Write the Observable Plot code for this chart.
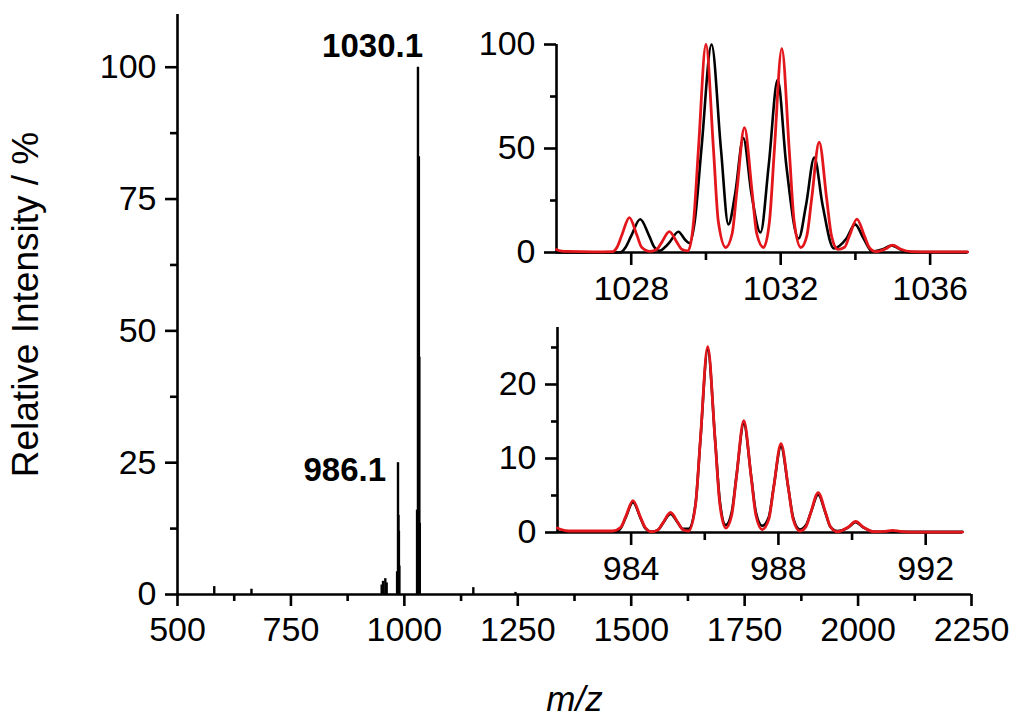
<!DOCTYPE html>
<html><head><meta charset="utf-8">
<script src="https://cdn.jsdelivr.net/npm/d3@7"></script>
<script src="https://cdn.jsdelivr.net/npm/@observablehq/plot@0.6"></script>
<style>
html,body{margin:0;padding:0;background:#fff;}
#wrap{position:relative;width:1016px;height:722px;overflow:hidden;}
</style></head><body><div id="wrap"></div>
<script>
// ---------- main spectrum ----------
const mainMz  = [581, 663, 950, 953, 958, 961, 984, 985, 986, 987, 988, 989, 1028, 1029, 1030, 1031, 1032, 1033, 1034, 1152, 1245];
const mainInt = [1.5, 1.0, 1.8, 2.5, 3.0, 2.2, 4.3, 2.7, 25, 15, 12, 5.4, 16, 10, 100, 55, 83, 45, 13.5, 1.3, 0.4];
const mainXDomain = [500, 2250];
const mainYDomain = [0, 110];
const mainXMajor = [500, 750, 1000, 1250, 1500, 1750, 2000, 2250];
const mainXMinor = [625, 875, 1125, 1375, 1625, 1875, 2125];
const mainYMajor = [0, 25, 50, 75, 100];
const mainYMinor = [12.5, 37.5, 62.5, 87.5];
const peakLabelMz = [1030.1, 986.1];
const peakLabelInt = [100, 25];
const peakLabelText = ["1030.1", "986.1"];
const yTitle = "Relative Intensity / %";
const xTitle = "m/z";

// ---------- top inset (1030 cluster) ----------
const topRedMz = [1026.0, 1026.1, 1026.3, 1027.0, 1027.5, 1027.62, 1027.75, 1027.95, 1028.15, 1028.28, 1028.5, 1028.69, 1028.82, 1029.02, 1029.22, 1029.35, 1029.52, 1029.67, 1029.8, 1030.0, 1030.2, 1030.33, 1030.53, 1030.7, 1030.83, 1031.03, 1031.23, 1031.36, 1031.54, 1031.7, 1031.83, 1032.03, 1032.23, 1032.36, 1032.54, 1032.7, 1032.83, 1033.03, 1033.23, 1033.36, 1033.53, 1033.71, 1033.84, 1034.04, 1034.24, 1034.37, 1034.55, 1034.8, 1035.0, 1035.2, 1035.5, 1036.0, 1037.0];
const topRedInt = [1.5, 0.8, 0.5, 0.3, 0.4, 2.5, 8.4, 16.8, 8.4, 2.5, 0.5, 1.6, 5, 10, 5, 1.6, 0.8, 15, 50, 100, 50, 15, 2.4, 9, 30, 60, 30, 9, 2.4, 15, 49, 98, 49, 15, 2.4, 8, 26, 53, 26, 8, 1.5, 2.5, 8, 16, 8, 2.5, 0.4, 1.7, 3.5, 1.7, 0.4, 0.3, 0.3];
const topBlackMz = [1026.0, 1027.7, 1027.85, 1028.0, 1028.24, 1028.48, 1028.62, 1028.76, 1028.9, 1029.03, 1029.26, 1029.45, 1029.56, 1029.7, 1029.88, 1030.15, 1030.4, 1030.6, 1030.78, 1031.0, 1031.22, 1031.46, 1031.68, 1031.92, 1032.15, 1032.48, 1032.68, 1032.9, 1033.12, 1033.42, 1033.76, 1033.99, 1034.22, 1034.45, 1034.75, 1034.96, 1035.18, 1035.4, 1037.0];
const topBlackInt = [0, 0, 2.5, 8, 16, 8, 2.5, 0.8, 2.5, 5, 10, 6, 4.5, 15, 50, 100, 50, 13.5, 28, 55, 28, 9.6, 42, 83, 42, 6.7, 23, 45.7, 23, 2, 6.7, 13.5, 6.7, 0.5, 1.7, 3.4, 1.7, 0.2, 0.2];
const topXDomain = [1026, 1037];
const topYDomain = [0, 100];
const topXMajor = [1028, 1032, 1036];
const topXMinor = [1030, 1034];
const topYMajor = [0, 50, 100];
const topYMinor = [25, 75];

// ---------- bottom inset (986 cluster) ----------
const botRedMz = [982.0, 982.1, 982.3, 983.0, 983.5, 983.72, 983.85, 984.05, 984.25, 984.38, 984.56, 984.74, 984.87, 985.07, 985.27, 985.4, 985.56, 985.75, 985.88, 986.08, 986.28, 986.41, 986.57, 986.73, 986.86, 987.06, 987.26, 987.39, 987.56, 987.74, 987.87, 988.07, 988.27, 988.4, 988.58, 988.75, 988.88, 989.08, 989.28, 989.41, 989.6, 989.9, 990.1, 990.3, 990.6, 990.9, 991.1, 991.3, 991.6, 993.0];
const botRedInt = [0.6, 0.4, 0.2, 0.2, 0.2, 0.7, 2.1, 4.3, 2.1, 0.7, 0.1, 0.4, 1.35, 2.7, 1.35, 0.4, 0.2, 3.8, 12.5, 25.1, 12.5, 3.8, 0.6, 2.3, 7.5, 15.1, 7.5, 2.3, 0.4, 1.8, 6, 12, 6, 1.8, 0.2, 0.8, 2.7, 5.4, 2.7, 0.8, 0.1, 0.75, 1.5, 0.75, 0.1, 0.15, 0.3, 0.15, 0.05, 0.05];
const botBlackMz = [982.0, 983.6, 983.72, 983.85, 984.05, 984.25, 984.38, 984.56, 984.74, 984.87, 985.07, 985.27, 985.4, 985.56, 985.75, 985.88, 986.08, 986.28, 986.41, 986.57, 986.73, 986.86, 987.06, 987.26, 987.39, 987.56, 987.74, 987.87, 988.07, 988.27, 988.4, 988.58, 988.75, 988.88, 989.08, 989.28, 989.41, 989.6, 989.9, 990.1, 990.3, 990.6, 993.0];
const botBlackInt = [0.1, 0.1, 0.6, 2.0, 4.1, 2.0, 0.6, 0.1, 0.4, 1.3, 2.5, 1.3, 0.5, 0.5, 3.9, 12.4, 24.7, 12.6, 4.2, 1.0, 2.7, 7.6, 14.7, 7.6, 2.7, 0.9, 2.1, 6.1, 11.6, 6.0, 2.0, 0.4, 1.0, 2.7, 5.1, 2.6, 0.8, 0.2, 0.7, 1.4, 0.7, 0.1, 0.1];
const botXDomain = [982, 993];
const botYDomain = [0, 27.7];
const botXMajor = [984, 988, 992];
const botXMinor = [986, 990];
const botYMajor = [0, 10, 20];
const botYMinor = [5, 15, 25];

const FONT = "'Liberation Sans', Arial, Helvetica, sans-serif";
const FS = 34;
const RED = "#e3161c";
const AXW = 2.6;

const zip = (xs, ys) => xs.map((x, i) => ({x, y: ys[i]}));

function axes(xMaj, xMin, yMaj, yMin, xDom, xt, yt) {
  return [
    Plot.axisX({ticks: xMaj, tickSize: xt[0], tickPadding: xt[2], tickFormat: "d", label: null, fontSize: FS, strokeWidth: AXW}),
    Plot.axisX({ticks: xMin, tickSize: xt[1], tickFormat: () => "", label: null, strokeWidth: AXW}),
    Plot.axisY({ticks: yMaj, tickSize: yt[0], tickPadding: yt[2], tickFormat: "d", label: null, fontSize: FS, strokeWidth: AXW}),
    Plot.axisY({ticks: yMin, tickSize: yt[1], tickFormat: () => "", label: null, strokeWidth: AXW}),
    Plot.ruleY([0], {strokeWidth: AXW}),
    Plot.ruleX([xDom[0]], {strokeWidth: AXW})
  ];
}

const wrap = document.getElementById("wrap");

const main = Plot.plot({
  width: 1016, height: 722,
  marginLeft: 177, marginRight: 45, marginTop: 14, marginBottom: 128,
  x: {domain: mainXDomain},
  y: {domain: mainYDomain},
  style: {fontFamily: FONT, fontSize: FS + "px", color: "black", background: "white"},
  marks: [
    ...axes(mainXMajor, mainXMinor, mainYMajor, mainYMinor, mainXDomain, [12, 7, 10], [12, 7, 9]),
    Plot.ruleX(zip(mainMz, mainInt), {x: "x", y1: 0, y2: "y", strokeWidth: 2.4, stroke: "black"}),
    Plot.text([0], {x: () => peakLabelMz[0], y: () => peakLabelInt[0], text: () => peakLabelText[0], textAnchor: "end", lineAnchor: "bottom", dx: 5, dy: -10, fontWeight: "bold", fontSize: 33}),
    Plot.text([1], {x: () => peakLabelMz[1], y: () => peakLabelInt[1], text: () => peakLabelText[1], textAnchor: "end", lineAnchor: "bottom", dx: -12, dy: 18, fontWeight: "bold", fontSize: 33}),
    Plot.text([yTitle], {text: d => d, frameAnchor: "left", textAnchor: "middle", lineAnchor: "middle", dx: -151, rotate: -90, fontSize: 37}),
    Plot.text([xTitle], {text: d => d, frameAnchor: "bottom", textAnchor: "middle", lineAnchor: "bottom", dy: 116, fontStyle: "italic", fontSize: 35})
  ]
});
main.style.position = "absolute"; main.style.left = "0px"; main.style.top = "0px";
wrap.appendChild(main);

function inset(left, top, w, h, m, xDom, yDom, xMaj, xMin, yMaj, yMin, bx, by, rx, ry) {
  const p = Plot.plot({
    width: w, height: h,
    marginLeft: m[0], marginRight: m[1], marginTop: m[2], marginBottom: m[3],
    x: {domain: xDom}, y: {domain: yDom},
    style: {fontFamily: FONT, fontSize: FS + "px", color: "black", background: "transparent", overflow: "visible"},
    marks: [
      ...axes(xMaj, xMin, yMaj, yMin, xDom, [13, 8, 10], [12, 6, 9]),
      Plot.line(zip(bx, by), {x: "x", y: "y", stroke: "black", strokeWidth: 2.6, curve: "monotone-x"}),
      Plot.line(zip(rx, ry), {x: "x", y: "y", stroke: RED, strokeWidth: 2.8, curve: "monotone-x"})
    ]
  });
  p.style.position = "absolute"; p.style.left = left + "px"; p.style.top = top + "px";
  p.style.maxWidth = "none";
  wrap.appendChild(p);
}

inset(470, 20, 530, 300, [86, 33, 24, 68], topXDomain, topYDomain, topXMajor, topXMinor, topYMajor, topYMinor, topBlackMz, topBlackInt, topRedMz, topRedInt);
inset(470, 310, 530, 290, [87, 38, 17, 68], botXDomain, botYDomain, botXMajor, botXMinor, botYMajor, botYMinor, botBlackMz, botBlackInt, botRedMz, botRedInt);
</script></body></html>
